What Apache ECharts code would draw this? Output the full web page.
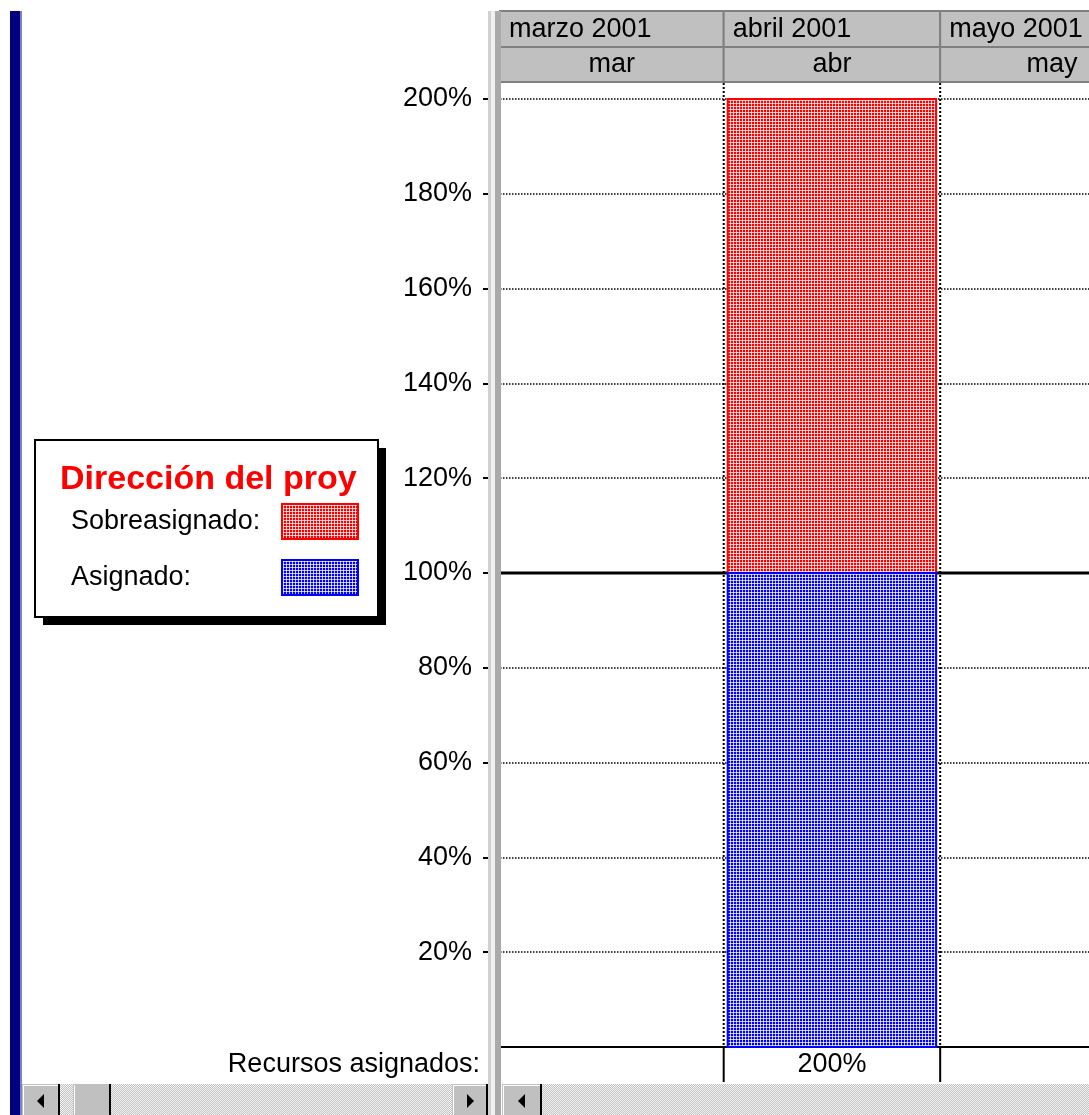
<!DOCTYPE html>
<html>
<head>
<meta charset="utf-8">
<script src="https://cdn.jsdelivr.net/npm/echarts@6/dist/echarts.min.js"></script>
<style>
  html, body { margin: 0; padding: 0; background: #fff; }
  #chart { width: 1089px; height: 1115px; }
</style>
</head>
<body>
<div id="chart"></div>
<script>
// escala temporal: inicio de cada mes (el último cierra la columna de mayo)
const monthStarts = ['2001-03-01', '2001-04-01', '2001-05-01', '2001-06-01']
const monthTitles = ['marzo 2001', 'abril 2001', 'mayo 2001']
const monthLabels = ['mar', 'abr', 'may']

// unidades por mes (%)
const assigned = [0, 100, 0]
const overallocated = [0, 100, 0]
const assignedTotals = ['', '200%', '']

// capacidad máxima del recurso (%)
const maxUnits = 100

// marcas del eje vertical
const yTicks = [20, 40, 60, 80, 100, 120, 140, 160, 180, 200]

// fin de la parte visible de la escala temporal
const viewEnd = '2001-05-21T15:00:00'

const FONT = '"Liberation Sans", Arial, sans-serif'
const day = (s) => new Date(s.length > 10 ? s : s + 'T00:00:00').getTime()
const starts = monthStarts.map(day)

/** trama de puntos tipo Project */
function dotPattern(base, light) {
  const c = document.createElement('canvas')
  c.width = 3
  c.height = 3
  const g = c.getContext('2d')
  g.fillStyle = base
  g.fillRect(0, 0, 3, 3)
  g.fillStyle = light
  g.fillRect(1, 0, 1, 3)
  g.fillRect(0, 1, 3, 1)
  g.fillStyle = '#ffffff'
  g.fillRect(1, 1, 1, 1)
  return { image: c, repeat: 'repeat' }
}

function checker(a, b) {
  const c = document.createElement('canvas')
  c.width = 2
  c.height = 2
  const g = c.getContext('2d')
  g.fillStyle = a
  g.fillRect(0, 0, 2, 2)
  g.fillStyle = b
  g.fillRect(0, 0, 1, 1)
  g.fillRect(1, 1, 1, 1)
  return { image: c, repeat: 'repeat' }
}

const redFill = dotPattern('#ff0000', '#ffbcbc')
const blueFill = dotPattern('#0000ff', '#bcbcff')
const trackFill = checker('#c4c4c4', '#f2f2f2')

const monthData = monthLabels.map((m, i) => [starts[i], starts[i + 1], 0, i])
const assignedData = assigned
  .map((v, i) => [starts[i], starts[i + 1], 0, v])
  .filter((d) => d[3] > 0)
const overData = overallocated
  .map((v, i) => [starts[i], starts[i + 1], assigned[i], assigned[i] + v])
  .filter((d) => d[3] > d[2])

function renderBar(params, api) {
  const p0 = api.coord([api.value(0), api.value(3)])
  const p1 = api.coord([api.value(1), api.value(2)])
  return {
    type: 'rect',
    shape: { x: p0[0] + 4, y: p0[1], width: p1[0] - p0[0] - 8, height: p1[1] - p0[1] },
    style: api.style()
  }
}

function text(str, x, y, align) {
  return {
    type: 'text',
    style: { text: str, x, y, align, verticalAlign: 'middle', font: '27px ' + FONT, fill: '#000' }
  }
}

// cabecera de la escala temporal, líneas de mes y fila de totales
function renderTimescale(params, api) {
  const i = api.value(3)
  const x0 = api.coord([api.value(0), 0])[0]
  const x1 = api.coord([api.value(1), 0])[0]
  const yBottom = api.coord([api.value(0), 0])[1]
  const mid = (x0 + x1) / 2
  return {
    type: 'group',
    children: [
      { type: 'rect', shape: { x: x0, y: 11, width: x1 - x0, height: 36 }, style: { fill: '#c0c0c0', stroke: '#808080', lineWidth: 2 } },
      { type: 'rect', shape: { x: x0, y: 47, width: x1 - x0, height: 35 }, style: { fill: '#c0c0c0', stroke: '#808080', lineWidth: 2 } },
      text(monthTitles[i], x0 + 9, 30, 'left'),
      text(monthLabels[i], mid, 65, 'center'),
      { type: 'line', shape: { x1: x0, y1: 83, x2: x0, y2: yBottom }, style: { stroke: '#000', lineWidth: 2, lineDash: [2, 2] } },
      { type: 'line', shape: { x1: x0, y1: yBottom, x2: x0, y2: yBottom + 35 }, style: { stroke: '#000', lineWidth: 2 } },
      text(assignedTotals[i], mid, yBottom + 18, 'center')
    ]
  }
}

function scrollButton(x, w, dir) {
  const cx = x + w / 2
  const cy = 1101
  const pts = dir === 'left'
    ? [[cx - 4, cy], [cx + 3, cy - 7], [cx + 3, cy + 7]]
    : [[cx + 4, cy], [cx - 3, cy - 7], [cx - 3, cy + 7]]
  return [
    { type: 'rect', shape: { x, y: 1084, width: w, height: 31 }, style: { fill: '#c0c0c0' }, z: 100 },
    { type: 'rect', shape: { x: x + 1, y: 1085, width: w - 2, height: 1 }, style: { fill: '#ffffff' }, z: 101 },
    { type: 'rect', shape: { x: x + 1, y: 1085, width: 1, height: 30 }, style: { fill: '#ffffff' }, z: 101 },
    { type: 'rect', shape: { x: x + w - 2, y: 1084, width: 2, height: 31 }, style: { fill: '#000' }, z: 101 },
    { type: 'polygon', shape: { points: pts }, style: { fill: '#000' }, z: 101 }
  ]
}

const graphics = [
  // barra azul de la vista
  { type: 'rect', shape: { x: 10, y: 11, width: 10, height: 1104 }, style: { fill: '#000080' }, z: 100 },
  { type: 'rect', shape: { x: 20, y: 11, width: 2, height: 1104 }, style: { fill: '#8080c0' }, z: 100 },
  // divisor de paneles
  { type: 'rect', shape: { x: 488, y: 11, width: 3, height: 1104 }, style: { fill: '#d0d0d0' }, z: 100 },
  { type: 'rect', shape: { x: 491, y: 11, width: 4, height: 1104 }, style: { fill: '#f0f0f0' }, z: 100 },
  { type: 'rect', shape: { x: 495, y: 11, width: 6, height: 1104 }, style: { fill: '#aaaaaa' }, z: 100 },
  // caja de leyenda
  { type: 'rect', shape: { x: 43, y: 448, width: 343, height: 177 }, style: { fill: '#000' }, z: 0 },
  { type: 'rect', shape: { x: 35, y: 440, width: 343, height: 177 }, style: { fill: '#fff', stroke: '#000', lineWidth: 2 }, z: 1 },
  // rótulo de la fila de totales
  { type: 'text', style: { text: 'Recursos asignados:', x: 480, y: 1065, align: 'right', verticalAlign: 'middle', font: '27px ' + FONT, fill: '#000' }, z: 100 },
  // barras de desplazamiento
  { type: 'rect', shape: { x: 22, y: 1084, width: 466, height: 31 }, style: { fill: trackFill }, z: 99 },
  { type: 'rect', shape: { x: 502, y: 1084, width: 587, height: 31 }, style: { fill: trackFill }, z: 99 },
  ...scrollButton(22, 38, 'left'),
  ...scrollButton(452, 36, 'right'),
  ...scrollButton(502, 40, 'left'),
  { type: 'rect', shape: { x: 73, y: 1084, width: 38, height: 31 }, style: { fill: '#c0c0c0' }, z: 100 },
  { type: 'rect', shape: { x: 74, y: 1085, width: 1, height: 30 }, style: { fill: '#ffffff' }, z: 101 },
  { type: 'rect', shape: { x: 109, y: 1084, width: 2, height: 31 }, style: { fill: '#000' }, z: 101 }
]

const chart = echarts.init(document.getElementById('chart'))

chart.setOption({
  animation: false,
  backgroundColor: '#ffffff',
  title: {
    text: 'Dirección del proy',
    left: 60,
    top: 463,
    padding: 0,
    textStyle: { color: '#ff0000', fontSize: 34, fontWeight: 'bold', fontFamily: FONT }
  },
  legend: {
    data: [
      { name: 'Sobreasignado:', itemStyle: { borderColor: '#ff0000', borderWidth: 2 } },
      { name: 'Asignado:', itemStyle: { borderColor: '#0000ff', borderWidth: 2 } }
    ],
    orient: 'vertical',
    align: 'right',
    left: 71,
    top: 503,
    padding: 0,
    icon: 'rect',
    itemWidth: 76,
    itemHeight: 35,
    itemGap: 19,
    selectedMode: false,
    formatter: '{t|{name}}',
    textStyle: {
      rich: { t: { width: 206, align: 'left', fontSize: 27, fontFamily: FONT, color: '#000' } }
    }
  },
  grid: { left: 500, top: 99, right: 0, height: 948 },
  xAxis: {
    type: 'time',
    min: starts[0],
    max: day(viewEnd),
    axisLine: { show: true, lineStyle: { color: '#000', width: 2 } },
    axisTick: { show: false },
    axisLabel: { show: false },
    splitLine: { show: false }
  },
  yAxis: {
    type: 'value',
    min: 0,
    max: 200,
    interval: 20,
    axisLine: { show: false },
    axisTick: { show: true, length: 17, customValues: yTicks, lineStyle: { color: '#000', width: 2 } },
    axisLabel: {
      customValues: yTicks,
      formatter: '{value}%',
      margin: 28,
      color: '#000',
      fontSize: 27,
      fontFamily: FONT
    },
    splitLine: { show: true, lineStyle: { color: '#000', width: 1.5, type: [1.5, 1.5] } }
  },
  graphic: { elements: graphics },
  series: [
    {
      name: 'escala',
      type: 'custom',
      renderItem: renderTimescale,
      encode: { x: [0, 1], y: 2 },
      data: monthData,
      silent: true,
      z: 1
    },
    {
      name: 'capacidad',
      type: 'line',
      data: starts.map((t) => [t, maxUnits]),
      symbol: 'none',
      lineStyle: { color: '#000', width: 3 },
      silent: true,
      z: 1
    },
    {
      name: 'Sobreasignado:',
      type: 'custom',
      renderItem: renderBar,
      encode: { x: [0, 1], y: [2, 3] },
      data: overData,
      itemStyle: { color: redFill, borderColor: '#ff0000', borderWidth: 2 },
      z: 3
    },
    {
      name: 'Asignado:',
      type: 'custom',
      renderItem: renderBar,
      encode: { x: [0, 1], y: [2, 3] },
      data: assignedData,
      itemStyle: { color: blueFill, borderColor: '#0000ff', borderWidth: 2 },
      z: 3
    }
  ]
})
</script>
</body>
</html>
